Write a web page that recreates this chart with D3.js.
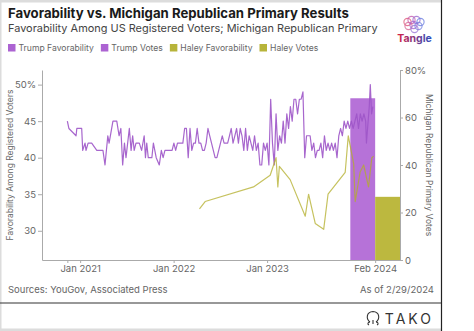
<!DOCTYPE html>
<html>
<head>
<meta charset="utf-8">
<script src="https://cdn.jsdelivr.net/npm/d3@7"></script>
<style>
  html, body { margin: 0; padding: 0; background: #fff; }
  svg { display: block; font-family: Inter, "Noto Sans", sans-serif; }
</style>
</head>
<body>
<svg id="chart" width="474" height="331"></svg>
<script>
// weekly YouGov favorability (percent) and Michigan primary vote share
const trumpFav = [
  ["2020-11-12",45],["2020-11-18",44],["2020-12-16",43],["2020-12-19",44],["2021-01-07",44],["2021-01-11",41],
  ["2021-01-20",42],["2021-01-24",41],["2021-02-01",42],["2021-02-15",42],["2021-03-07",41],["2021-03-31",41],
  ["2021-04-08",39],["2021-04-19",43],["2021-04-24",42],["2021-05-09",45],["2021-05-24",45],["2021-06-02",43],
  ["2021-06-09",44],["2021-06-16",39],["2021-06-23",42],["2021-06-29",40],["2021-07-12",44],["2021-07-19",41],
  ["2021-07-25",43],["2021-07-31",41],["2021-08-07",42],["2021-08-20",42],["2021-08-29",41],["2021-09-08",43],
  ["2021-09-13",40],["2021-09-18",42],["2021-09-24",40],["2021-10-08",40],["2021-10-14",42],["2021-10-25",40],
  ["2021-11-06",39],["2021-11-14",41],["2021-11-21",40],["2021-11-28",41],["2021-12-05",41],["2021-12-12",41],
  ["2021-12-19",41],["2021-12-26",41],["2022-01-02",42],["2022-01-09",41],["2022-01-16",42],["2022-01-23",42],
  ["2022-01-30",42],["2022-02-06",42],["2022-02-13",44],["2022-02-20",44],["2022-02-27",40],["2022-03-06",44],
  ["2022-03-13",41],["2022-03-20",42],["2022-03-27",42],["2022-04-03",44],["2022-04-10",42],["2022-04-17",42],
  ["2022-04-24",41],["2022-05-01",41],["2022-05-08",42],["2022-05-15",44],["2022-05-22",43],["2022-05-29",42],
  ["2022-06-05",41],["2022-06-12",40],["2022-06-19",40],["2022-06-26",41],["2022-07-03",42],["2022-07-10",43],
  ["2022-07-17",42],["2022-07-24",42],["2022-07-31",42],["2022-08-07",43],["2022-08-14",44],["2022-08-21",42],
  ["2022-08-28",43],["2022-09-04",44],["2022-09-11",42],["2022-09-18",44],["2022-09-25",43],["2022-10-02",41],
  ["2022-10-09",44],["2022-10-16",41],["2022-10-23",43],["2022-10-30",42],["2022-11-06",41],["2022-11-13",43],
  ["2022-11-20",41],["2022-11-27",42],["2022-12-04",39],["2022-12-11",39],["2022-12-18",42],["2022-12-25",41],
  ["2023-01-01",42],["2023-01-08",39],["2023-01-15",48],["2023-01-22",42],["2023-01-29",39],["2023-02-05",46],
  ["2023-02-12",41],["2023-02-19",43],["2023-02-26",42],["2023-03-05",45],["2023-03-12",42],["2023-03-19",46],
  ["2023-03-26",44],["2023-04-02",47],["2023-04-09",45],["2023-04-16",48],["2023-04-23",48],["2023-04-30",46],
  ["2023-05-07",48],["2023-05-14",48],["2023-05-21",49],["2023-05-28",40],["2023-06-04",43],["2023-06-11",43],
  ["2023-06-18",43],["2023-06-25",41],["2023-07-02",42],["2023-07-09",40],["2023-07-16",41],["2023-07-23",41],
  ["2023-07-30",42],["2023-08-06",40],["2023-08-13",43],["2023-08-20",41],["2023-08-27",42],["2023-09-03",41],
  ["2023-09-10",42],["2023-09-17",41],["2023-09-24",42],["2023-10-01",40],["2023-10-08",43],["2023-10-15",44],
  ["2023-10-22",43],["2023-10-29",45],["2023-11-05",44],["2023-11-12",45],["2023-11-19",44],["2023-11-26",45],
  ["2023-12-03",44],["2023-12-10",45],["2023-12-17",46],["2023-12-24",44],["2023-12-31",46],["2024-01-07",45],
  ["2024-01-14",46],["2024-01-21",45],["2024-01-24",42],["2024-02-04",47],["2024-02-08",50],["2024-02-13",46],
  ["2024-02-18",47]
];

const haleyFav = [
  ["2022-04-12",33],["2022-05-04",34],["2022-11-09",36],["2023-01-13",37.6],["2023-02-05",40],["2023-02-12",36],
  ["2023-02-18",38.8],["2023-04-01",37],["2023-05-30",32],["2023-06-12",35],["2023-07-08",31],["2023-08-10",30.2],
  ["2023-08-27",35],["2023-11-02",38],["2023-11-14",43],["2023-12-05",39.2],["2023-12-11",34],["2023-12-30",38],
  ["2024-01-13",39],["2024-02-01",36],["2024-02-14",40],["2024-02-21",40.2]
];

const primaryDate = "2024-02-27";
const candidates = ["Trump", "Haley"];
const primaryVotes = [68.1, 26.6];

const leftTicks = [30, 35, 40, 45, 50];
const rightTicks = [0, 20, 40, 60, 80];
const dateTicks = ["2020-11-12", "2021-01-01", "2022-01-01", "2023-01-01", primaryDate];

const legendItems = ["Trump Favorability", "Trump Votes", "Haley Favorability", "Haley Votes"];

const purple = "#ac63d2", olive = "#b7b43a";
const legendColors = [purple, purple, olive, olive];

const svg = d3.select("#chart");
const W = 474, H = 331;
const plot = {left: 42, right: 400, top: 70, bottom: 260};

// frame
svg.append("rect").attr("x", 0).attr("y", 0).attr("width", W).attr("height", H).attr("fill", "#fff");
svg.append("rect").attr("x", 0).attr("y", 0).attr("width", 442).attr("height", 2.5).attr("fill", "#dcdcdc");
svg.append("rect").attr("x", 0).attr("y", 0).attr("width", 1.5).attr("height", H).attr("fill", "#dcdcdc");
svg.append("rect").attr("x", 0).attr("y", 328.5).attr("width", 442).attr("height", 3).attr("fill", "#dcdcdc");
svg.append("line").attr("x1", 441.5).attr("x2", 441.5).attr("y1", 0).attr("y2", H)
    .attr("stroke", "#222").attr("stroke-width", 1.2);
svg.append("line").attr("x1", 0).attr("x2", 441.5).attr("y1", 303).attr("y2", 303)
    .attr("stroke", "#333").attr("stroke-width", 1.2);

// scales
const parse = d3.utcParse("%Y-%m-%d");
const x = d3.scaleUtc()
    .domain([parse("2020-08-05"), parse("2024-06-03")])
    .range([plot.left, plot.right]);
const yL = d3.scaleLinear().domain([26, 52]).range([plot.bottom, plot.top]);
const yR = d3.scaleLinear().domain([0, 80]).range([plot.bottom, plot.top]);

// vote bars sit either side of primary day
const xp = x(parse(primaryDate));
const band = d3.scaleBand().domain(candidates)
    .range([xp - (plot.right - xp), plot.right]).padding(0);

svg.append("g").selectAll("rect")
    .data(candidates)
    .enter().append("rect")
    .attr("x", d => band(d))
    .attr("width", band.bandwidth())
    .attr("y", (d, i) => yR(primaryVotes[i]))
    .attr("height", (d, i) => yR(0) - yR(primaryVotes[i]))
    .attr("fill", (d, i) => i === 0 ? "#b672d8" : "#bcb83f");

// favorability lines
const line = d3.line()
    .x(d => x(parse(d[0])))
    .y(d => yL(d[1]));

svg.append("path").datum(trumpFav)
    .attr("d", line).attr("fill", "none")
    .attr("stroke", "#9d55c8").attr("stroke-width", 1.2)
    .attr("stroke-opacity", 0.9).attr("stroke-linejoin", "round");
svg.append("path").datum(haleyFav)
    .attr("d", line).attr("fill", "none")
    .attr("stroke", "#b3ae2a").attr("stroke-width", 1.2)
    .attr("stroke-opacity", 0.75).attr("stroke-linejoin", "round");

// axes
const axisColor = "#aaa", tickText = "#666";
function styleAxis(g) {
    g.selectAll("path.domain").attr("stroke", axisColor);
    g.selectAll(".tick line").attr("stroke", axisColor);
    g.selectAll(".tick text").attr("fill", tickText).style("font-size", "9.5px")
        .style("font-family", "Inter, sans-serif");
}

svg.append("g")
    .attr("transform", "translate(" + plot.left + ",0)")
    .call(d3.axisLeft(yL).tickValues(leftTicks).tickSize(4).tickSizeOuter(0).tickPadding(2)
        .tickFormat(d => d === 50 ? "50%" : d))
    .call(styleAxis);

svg.append("g")
    .attr("transform", "translate(" + plot.right + ",0)")
    .call(d3.axisRight(yR).tickValues(rightTicks).tickSize(3).tickSizeOuter(0).tickPadding(2)
        .tickFormat(d => d === 80 ? "80%" : d))
    .call(styleAxis);

const fmt = d3.utcFormat("%b %Y");
svg.append("g")
    .attr("transform", "translate(0," + plot.bottom + ")")
    .call(d3.axisBottom(x).tickValues(dateTicks.map(parse)).tickSize(3).tickSizeOuter(0).tickPadding(2)
        .tickFormat((d, i) => i === 0 ? "" : fmt(d)))
    .call(styleAxis);

// axis titles
svg.append("text")
    .attr("transform", "translate(13,165) rotate(-90)")
    .attr("text-anchor", "middle")
    .attr("fill", "#666").style("font-size", "8.5px")
    .text("Favorability Among Registered Voters");
svg.append("text")
    .attr("transform", "translate(425.5,165) rotate(90)")
    .attr("text-anchor", "middle")
    .attr("fill", "#666").style("font-size", "8.5px")
    .text("Michigan Republican Primary Votes");

// title block
svg.append("text").attr("x", 8).attr("y", 18)
    .attr("fill", "#1a1a1a").style("font-size", "13.2px").style("font-weight", 700)
    .text("Favorability vs. Michigan Republican Primary Results");
svg.append("text").attr("x", 8).attr("y", 32)
    .attr("fill", "#444").style("font-size", "10.95px")
    .text("Favorability Among US Registered Voters; Michigan Republican Primary");

// legend
const legend = svg.append("g").attr("transform", "translate(8,44)");
let lx = 0;
legendItems.forEach(function(name, i) {
    const g = legend.append("g").attr("transform", "translate(" + lx + ",0)");
    g.append("rect").attr("width", 7.5).attr("height", 7.5).attr("fill", legendColors[i]);
    const t = g.append("text").attr("x", 10.5).attr("y", 7.3)
        .attr("fill", "#666").style("font-size", "8.6px").text(name);
    lx += 10.5 + t.node().getComputedTextLength() + 7;
});

// footer
svg.append("text").attr("x", 8).attr("y", 293)
    .attr("fill", "#666").style("font-size", "9.5px")
    .text("Sources: YouGov, Associated Press");
svg.append("text").attr("x", 434).attr("y", 293).attr("text-anchor", "end")
    .attr("fill", "#666").style("font-size", "9.5px")
    .text("As of 2/29/2024");

// Tangle logo
const defs = svg.append("defs");
const grad = defs.append("linearGradient").attr("id", "tg").attr("x1", "0").attr("x2", "1");
grad.append("stop").attr("offset", "0").attr("stop-color", "#d61f45");
grad.append("stop").attr("offset", "1").attr("stop-color", "#2f4fc0");
const brain = svg.append("g").attr("fill", "none").attr("stroke-width", 1.1);
[[-7,-3,"#e05a7a"],[-3,-5,"#c45fb0"],[2,-5,"#9a6bd0"],[6,-3,"#6b7fe0"],
 [-6,1,"#d86a9a"],[-1,0,"#a96ad0"],[4,1,"#7a86e0"],[0,4,"#9c7bd8"]].forEach(function(c) {
    brain.append("circle").attr("cx", 414.5 + c[0]).attr("cy", 25 + c[1]).attr("r", 3.6)
        .attr("stroke", c[2]).attr("stroke-opacity", 0.8);
});
svg.append("text").attr("x", 414.5).attr("y", 42).attr("text-anchor", "middle")
    .attr("fill", "url(#tg)").style("font-size", "10.5px").style("font-weight", 700)
    .text("Tangle");

// TAKO mark
const tako = svg.append("g").attr("fill", "none").attr("stroke", "#333").attr("stroke-width", 1.1);
tako.append("path").attr("d", "M370,322 C366,319 366,312 373,311.5 C380,312 380,319 376,322");
tako.append("path").attr("d", "M370,322 c-2,0 -3,2 -1,3 M376,322 c2,0 3,2 1,3 M373,320 v4");
svg.append("text").attr("x", 434).attr("y", 323.5).attr("text-anchor", "end")
    .attr("fill", "#333").style("font-size", "14px").style("letter-spacing", "3px")
    .text("TAKO");
</script>
</body>
</html>
